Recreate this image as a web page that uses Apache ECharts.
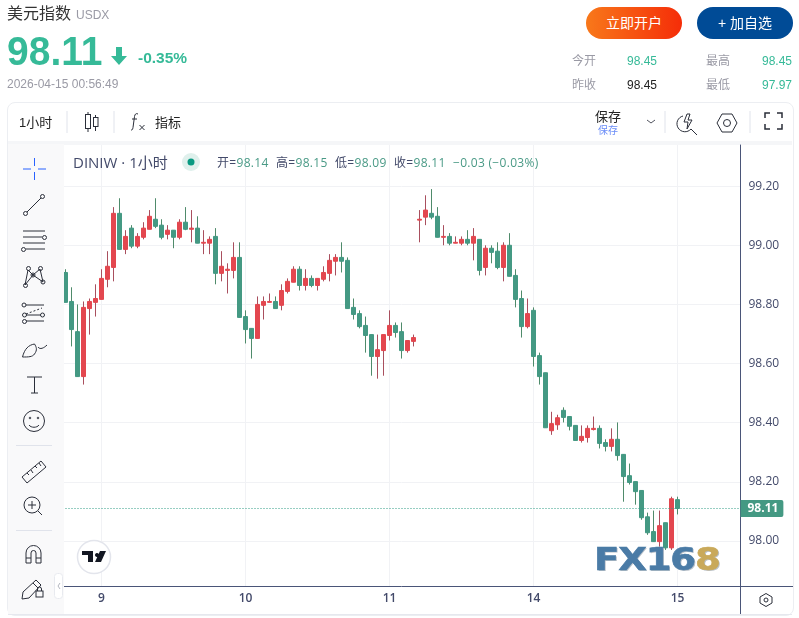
<!DOCTYPE html>
<html>
<head>
<meta charset="utf-8">
<title>美元指数</title>
<script src="https://cdn.jsdelivr.net/npm/echarts@6/dist/echarts.min.js"></script>
<style>
html,body{margin:0;padding:0;background:#fff;overflow:hidden;}
body{width:799px;height:618px;position:relative;font-family:"Liberation Sans","Noto Sans CJK SC",sans-serif;}
.t{position:absolute;white-space:nowrap;line-height:1;}
.box{position:absolute;}
.tv{font-family:"Open Sans","Noto Sans CJK SC",sans-serif;font-size:12px;color:#434a6a;letter-spacing:.3px;}
.g{color:#4a9a86;}
</style>
</head>
<body>
<!-- 面板底色 -->
<div class="box" style="left:7px;top:102px;width:785px;height:512px;border:1px solid #eceef2;border-radius:8px;"></div>
<div class="box" style="left:8px;top:141px;width:784px;height:4px;background:#f5f6f8;"></div>
<div id="chart" class="box" style="left:0;top:0;width:799px;height:618px;"></div>
<div class="box" style="left:8px;top:144px;width:56px;height:470px;background:#f9f9fa;"></div>
<div class="box" style="left:741px;top:586px;width:52px;height:1px;background:#4a5578;"></div>
<div class="box" style="left:740px;top:586px;width:1px;height:28px;background:#4a5578;"></div>
<div class="box" style="left:8px;top:614px;width:784px;height:1px;background:#e6e8ee;"></div>

<!-- 头部 -->
<div class="t" style="left:7px;top:6px;font-size:16px;color:#333;">美元指数</div>
<div class="t" style="left:76px;top:9px;font-size:12px;color:#9a9aa5;">USDX</div>
<div class="t" style="left:7px;top:30px;font-size:39px;font-weight:bold;color:#36ba98;transform:scaleY(1.05);transform-origin:left top;">98.11</div>
<svg class="box" style="left:111px;top:46px;" width="17" height="20"><path d="M5 1h6v9h5l-8 9l-8-9h5z" fill="#36ba98"/></svg>
<div class="t" style="left:138px;top:50px;font-size:15.500px;font-weight:bold;color:#36ba98;">-0.35%</div>
<div class="t" style="left:7px;top:78px;font-size:12px;color:#9a9aa5;">2026-04-15 00:56:49</div>

<div class="box" style="left:586px;top:7px;width:96px;height:32px;border-radius:16px;background:linear-gradient(90deg,#f8781a,#f52d08);color:#fff;font-size:14px;line-height:32px;text-align:center;">立即开户</div>
<div class="box" style="left:697px;top:7px;width:96px;height:32px;border-radius:16px;background:#004b96;color:#fff;font-size:14px;line-height:32px;text-align:center;">+ 加自选</div>

<div class="t" style="left:572px;top:55px;font-size:12px;color:#9a9aa5;">今开</div>
<div class="t" style="left:627px;top:55px;font-size:12px;color:#36ba98;">98.45</div>
<div class="t" style="left:706px;top:55px;font-size:12px;color:#9a9aa5;">最高</div>
<div class="t" style="left:762px;top:55px;font-size:12px;color:#36ba98;">98.45</div>
<div class="t" style="left:572px;top:79px;font-size:12px;color:#9a9aa5;">昨收</div>
<div class="t" style="left:627px;top:79px;font-size:12px;color:#222;">98.45</div>
<div class="t" style="left:706px;top:79px;font-size:12px;color:#9a9aa5;">最低</div>
<div class="t" style="left:762px;top:79px;font-size:12px;color:#36ba98;">97.97</div>

<!-- 工具栏 -->
<div class="t" style="left:19px;top:116px;font-size:13px;color:#222;">1小时</div>
<div class="t" style="left:155px;top:116px;font-size:13px;color:#222;">指标</div>
<div class="t" style="left:595px;top:110px;font-size:13px;color:#222;">保存</div>
<div class="t" style="left:598px;top:126px;font-size:10px;color:#6a8cf7;">保存</div>

<!-- 图例 -->
<div class="t tv" style="left:73px;top:155px;font-size:15px;letter-spacing:0;">DINIW · 1小时</div>
<div class="t tv" style="left:217px;top:157px;">开=<span class="g">98.14</span></div>
<div class="t tv" style="left:276px;top:157px;">高=<span class="g">98.15</span></div>
<div class="t tv" style="left:335px;top:157px;">低=<span class="g">98.09</span></div>
<div class="t tv" style="left:394px;top:157px;">收=<span class="g">98.11</span></div>
<div class="t tv g" style="left:453px;top:157px;color:#4a9a86;">−0.03 (−0.03%)</div>

<!-- 水印 -->
<div class="t" style="left:594px;top:543px;font-family:'DejaVu Sans';font-weight:bold;font-size:32px;letter-spacing:-1px;transform:scaleX(1.16);transform-origin:left top;color:#4a7ba6;-webkit-text-stroke:.6px #4a7ba6;text-shadow:1px 1px 0 #b9c0c8;">FX16<span style="color:#c9a95a;-webkit-text-stroke:.6px #c9a95a;">8</span></div>

<!-- 图标 -->
<svg class="box" width="799" height="618" style="left:0;top:0;pointer-events:none;" fill="none" stroke="#2a2e39" stroke-width="1">
  <path d="M67 111v22M114 111v22M665 111v22M750 111v22" stroke="#e0e3eb"/>
  <path d="M16 445.500h36M16 530.500h36" stroke="#e0e3eb"/>
  <rect x="85.500" y="114.500" width="5" height="14"/><path d="M88 112v2.500M88 128.500v3.500"/>
  <rect x="93.500" y="117.500" width="4.500" height="9"/><path d="M95.500 115v2.500M95.500 126.500v4.500"/>
  <path d="M138 114c-2-1-3 0-3.500 2.500l-1.500 11c-.4 2.500-1 2.500-2 2.500M132 119h5M139.500 125l5 5M144.500 125l-5 5"/>
  <path d="M647 120l4 3l4-3" stroke="#50535e"/>
  <path d="M687 114l-3 8h4l-1 7l5-9h-4l2-6zM683 116a8 8 0 1 0 8 13l6 6"/>
  <path d="M722 114h10l5 9l-5 9h-10l-5-9zM730.500 123a3.500 3.500 0 1 1-7 0a3.500 3.500 0 1 1 7 0z"/>
  <path d="M765 118v-5h5M777 113h5v5M782 124v5h-5M770 129h-5v-5" stroke-width="1.500"/>
  <circle cx="94" cy="557" r="16.500" fill="#fff" stroke="#e3e5ec" stroke-width="1.500"/>
  <path d="M82 551h11v11h-5v-7h-6zM100 551h6l-5 11h-6zM97 553a2 2 0 1 1-.01 0z" fill="#131722" stroke="none"/>
  <path d="M766 593.500l6 3.500v6l-6 3.500l-6-3.500v-6zM768 600a2 2 0 1 1-4 0a2 2 0 1 1 4 0z"/>
  <circle cx="191" cy="162" r="9" fill="#dff0ec" stroke="none"/>
  <circle cx="191" cy="162" r="3.500" fill="#089981" stroke="none"/>
  <!-- 左侧工具 -->
  <path d="M34.500 158v8M34.500 172v8M23 169h8M38 169h8" stroke="#2962ff"/>
  <path d="M27 212l14-14"/><circle cx="25.500" cy="213.500" r="2"/><circle cx="42.500" cy="196.500" r="2"/>
  <path d="M23 231h22M23 237h19M23 243h22M26 249h19"/><circle cx="44.500" cy="237.500" r="2"/><circle cx="23.500" cy="249.500" r="2"/>
  <path d="M28 270l5 5l7-6l3 13M28 270l-3 15M25 285l8-10l10 7"/>
  <circle cx="28.500" cy="268.500" r="2"/><circle cx="40.500" cy="268.500" r="2"/><circle cx="25.500" cy="285.500" r="2"/><circle cx="43" cy="282" r="2"/><circle cx="33" cy="275" r="2"/>
  <path d="M26 305h18M26 315h15M26 321h18"/><path d="M26 314l16-6" stroke-dasharray="2 2"/>
  <circle cx="24" cy="305" r="2"/><circle cx="24.500" cy="315" r="2"/><circle cx="42.500" cy="315" r="2"/><circle cx="24.500" cy="321.500" r="2"/>
  <path d="M22.500 357c2-8 6-12 12-13c2 3 3 6 0 10c-2 3-6 3-12 3zM38 347c2 3 6 1 9-2"/>
  <path d="M27 377h15M34.500 377v16M31 393h7"/>
  <circle cx="34" cy="421" r="10.500"/><path d="M29 425c2 3 8 3 10 0"/><circle cx="30" cy="418" r=".8"/><circle cx="38" cy="418" r=".8"/>
  <path d="M22 477l19-16l5 6l-19 16zM27 473l2 2M31 470l2 3M35 466l2 2M39 463l2 3"/>
  <circle cx="32" cy="505" r="8"/><path d="M32 501v8M28 505h8M38 511l4 4"/>
  <path d="M26 563v-10a7.500 7.500 0 0 1 15 0v10h-5v-10a2.500 2.500 0 0 0-5 0v10zM26 558h5M36 558h5"/>
  <path d="M23 592l13-12l5 5l-12 13l-7 1zM33 583l5 5"/>
  <rect x="36" y="591" width="7" height="6"/><path d="M37.500 591v-2a2 2 0 0 1 4 0v2"/>
  <rect x="54.500" y="573.500" width="8" height="25" rx="3" fill="#fff" stroke="#e8eaef"/>
  <path d="M60 583l-2 3l2 3" stroke="#b2b5be"/>
</svg>

<script>
// 数据: 每根K线 [开, 收, 低, 高]
var candles = [
[98.908,98.807,98.807,98.919],[98.81,98.715,98.658,98.858],[98.708,98.556,98.556,98.8],[98.556,98.79,98.529,98.81],
[98.786,98.81,98.698,98.82],[98.807,98.82,98.759,98.868],[98.817,98.888,98.817,98.919],[98.885,98.929,98.858,98.98],
[98.925,99.108,98.878,99.129],[99.108,98.986,98.986,99.159],[98.986,99.03,98.97,99.051],[99.058,98.997,98.99,99.068],
[98.997,99.03,98.99,99.041],[99.027,99.058,99.02,99.078],[99.054,99.098,99.054,99.119],[99.088,99.064,99.058,99.159],
[99.068,99.027,99.02,99.088],[99.037,99.051,99.02,99.068],[99.051,99.027,98.99,99.051],[99.027,99.078,99.02,99.088],
[99.078,99.054,99.051,99.129],[99.054,99.058,99.01,99.119],[99.058,99.007,99.007,99.098],[99.007,99.01,98.97,99.051],
[99.007,99.02,98.97,99.03],[99.03,98.905,98.868,99.058],[98.905,98.929,98.878,98.98],[98.915,98.919,98.837,98.939],
[98.915,98.959,98.888,99.01],[98.959,98.756,98.756,99.01],[98.759,98.715,98.668,98.78],[98.719,98.685,98.617,98.719],
[98.685,98.8,98.685,98.827],[98.797,98.81,98.749,98.827],[98.807,98.81,98.807,98.837],[98.81,98.786,98.786,98.827],
[98.797,98.847,98.78,98.868],[98.844,98.878,98.837,98.888],[98.875,98.919,98.875,98.929],[98.919,98.864,98.847,98.929],
[98.864,98.888,98.847,98.919],[98.888,98.864,98.858,98.898],[98.864,98.888,98.847,98.888],[98.885,98.908,98.878,98.929],
[98.905,98.949,98.878,98.97],[98.946,98.959,98.898,98.97],[98.959,98.946,98.908,99.01],[98.949,98.786,98.786,98.959],
[98.79,98.766,98.749,98.82],[98.769,98.725,98.719,98.78],[98.729,98.695,98.637,98.759],[98.698,98.624,98.559,98.698],
[98.624,98.647,98.549,98.698],[98.644,98.698,98.559,98.698],[98.695,98.729,98.678,98.78],[98.729,98.705,98.688,98.739],
[98.708,98.644,98.617,98.739],[98.644,98.678,98.637,98.678],[98.675,98.688,98.658,98.698],[99.085,99.088,99.01,99.119],
[99.095,99.119,99.068,99.169],[99.108,99.095,99.088,99.19],[99.098,99.027,99.027,99.129],[99.027,99.03,99.0,99.068],
[99.03,99.007,99.0,99.041],[99.007,99.01,99.007,99.03],[99.007,99.02,99.0,99.03],[99.02,99.007,99.0,99.051],
[99.007,99.03,98.949,99.058],[99.02,98.915,98.898,99.02],[98.925,98.99,98.898,99.0],[98.99,98.976,98.939,99.0],
[98.98,98.925,98.919,99.01],[98.925,99.0,98.878,99.01],[99.0,98.895,98.895,99.041],[98.898,98.817,98.79,98.919],
[98.82,98.725,98.688,98.847],[98.725,98.769,98.719,98.82],[98.78,98.624,98.59,98.79],[98.627,98.556,98.529,98.637],
[98.569,98.383,98.383,98.569],[98.373,98.397,98.359,98.437],[98.393,98.417,98.376,98.427],[98.442,98.418,98.401,98.452],
[98.421,98.388,98.374,98.421],[98.391,98.34,98.34,98.391],[98.34,98.354,98.333,98.391],[98.35,98.381,98.333,98.391],
[98.377,98.381,98.374,98.421],[98.381,98.33,98.313,98.391],[98.333,98.32,98.303,98.344],[98.32,98.344,98.303,98.381],
[98.344,98.289,98.272,98.401],[98.293,98.218,98.133,98.293],[98.221,98.198,98.191,98.262],[98.201,98.167,98.123,98.201],
[98.171,98.079,98.072,98.171],[98.082,98.028,98.021,98.096],[98.032,97.998,97.998,98.103],[97.998,98.052,97.981,98.103],
[98.062,97.977,97.97,98.062],[97.977,98.143,97.97,98.15],[98.14,98.11,98.09,98.15]
];
var dayIndex = [6, 30, 54, 78, 102];      // 每天开始的那根K线
var dayLabels = ['9', '10', '11', '14', '15'];
var priceTicks = [98.00, 98.20, 98.40, 98.60, 98.80, 99.00, 99.20];
var lastPrice = 98.11;
var emptySlots = 10;                      // 右边留白的K线数

var categories = [];
for (var i = 0; i < candles.length + emptySlots; i++) {
    var k = dayIndex.indexOf(i);
    categories.push(k >= 0 ? dayLabels[k] : '');
}
// 实体单独一层,影线颜色比实体暗
var bodies = candles.map(function (d) {
    return [d[0], d[1], Math.min(d[0], d[1]), Math.max(d[0], d[1])];
});
function isDay(index) { return dayIndex.indexOf(index) >= 0; }

var myChart = echarts.init(document.getElementById('chart'));
var option = {
    animation: false,
    textStyle: { fontFamily: '"Open Sans", sans-serif' },
    grid: { left: 62.5, top: 145, width: 678, height: 441 },
    xAxis: {
        type: 'category',
        data: categories,
        boundaryGap: true,
        axisLine: { lineStyle: { color: '#4a5578', width: 1 } },
        axisTick: { show: false, alignWithLabel: true },
        axisLabel: { interval: function (i) { return isDay(i); }, color: '#434a6a', fontSize: 12, fontWeight: 600, margin: 7 },
        splitLine: { show: true, alignWithLabel: true, interval: function (i) { return isDay(i); }, lineStyle: { color: '#f1f2f5', width: 1 } }
    },
    yAxis: {
        type: 'value',
        position: 'right',
        scale: true,
        min: 97.848,
        max: 99.339,
        axisLine: { show: true, lineStyle: { color: '#4a5578', width: 1 } },
        axisTick: { show: false, customValues: priceTicks },
        axisLabel: { customValues: priceTicks, color: '#434a6a', fontSize: 12, margin: 8, formatter: function (v) { return v.toFixed(2); } },
        splitLine: { show: true, lineStyle: { color: '#f1f2f5', width: 1 } }
    },
    series: [
        {
            name: 'wick',
            type: 'candlestick',
            data: candles,
            barWidth: 1,
            silent: true,
            itemStyle: { color: '#a94f5e', color0: '#4f8b6b', borderColor: '#a94f5e', borderColor0: '#4f8b6b', borderWidth: 1 }
        },
        {
            name: 'DINIW',
            type: 'candlestick',
            data: bodies,
            barWidth: 4,
            itemStyle: { color: '#e3474f', color0: '#449983', borderColor: '#e3474f', borderColor0: '#449983', borderWidth: 1 },
            markLine: {
                silent: true,
                symbol: 'none',
                animation: false,
                lineStyle: { color: '#2f9d84', type: [1, 2], width: 1 },
                label: {
                    position: 'end', distance: 0, color: '#fff', fontWeight: 'bold', fontSize: 12,
                    backgroundColor: '#449983', padding: [3, 5, 2, 7], borderRadius: [0, 2, 2, 0],
                    formatter: function (p) { return p.value.toFixed(2); }
                },
                data: [{ yAxis: lastPrice }]
            }
        }
    ]
};
myChart.setOption(option);
</script>
</body>
</html>
